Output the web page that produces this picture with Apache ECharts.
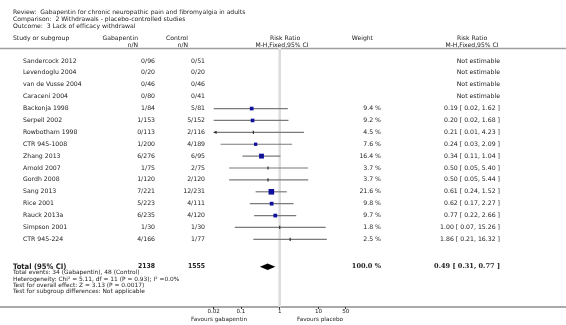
<!DOCTYPE html>
<html>
<head>
<meta charset="utf-8">
<script src="https://cdn.jsdelivr.net/npm/echarts@6/dist/echarts.min.js"></script>
<style>
  html, body { margin: 0; padding: 0; background: #fff; }
  #chart { width: 566px; height: 325px; }
</style>
</head>
<body>
<div id="chart"></div>
<script>
// study rows, top to bottom
const studies = [
  "Sandercock 2012", "Levendoglu 2004", "van de Vusse 2004", "Caraceni 2004",
  "Backonja 1998", "Serpell 2002", "Rowbotham 1998", "CTR 945-1008",
  "Zhang 2013", "Arnold 2007", "Gordh 2008", "Sang 2013",
  "Rice 2001", "Rauck 2013a", "Simpson 2001", "CTR 945-224"
]
const gabEvents = [0, 0, 0, 0, 1, 1, 0, 1, 6, 1, 1, 7, 5, 6, 1, 4]
const gabTotal = [96, 20, 46, 80, 84, 153, 113, 200, 276, 75, 120, 221, 223, 235, 30, 166]
const ctlEvents = [0, 0, 0, 0, 5, 5, 2, 4, 6, 2, 2, 12, 4, 4, 1, 1]
const ctlTotal = [51, 20, 46, 41, 81, 152, 116, 189, 95, 75, 120, 231, 111, 120, 30, 77]
const weights = [null, null, null, null, 9.4, 9.2, 4.5, 7.6, 16.4, 3.7, 3.7, 21.6, 9.8, 9.7, 1.8, 2.5]
const riskRatio = [null, null, null, null, 0.19, 0.20, 0.21, 0.24, 0.34, 0.50, 0.50, 0.61, 0.62, 0.77, 1.00, 1.86]
const ciLow = [null, null, null, null, 0.02, 0.02, 0.01, 0.03, 0.11, 0.05, 0.05, 0.24, 0.17, 0.22, 0.07, 0.21]
const ciHigh = [null, null, null, null, 1.62, 1.68, 4.23, 2.09, 1.04, 5.40, 5.44, 1.52, 2.27, 2.66, 15.26, 16.32]

const totalGab = 2138
const totalCtl = 1555
const totalRR = 0.49
const totalLow = 0.31
const totalHigh = 0.77

const tickValues = [0.02, 0.1, 1, 10, 50]
const tickLabels = ["0.02", "0.1", "1", "10", "50"]

const titleLines = [
  "Review:  Gabapentin for chronic neuropathic pain and fibromyalgia in adults",
  "Comparison:  2 Withdrawals - placebo-controlled studies",
  "Outcome:  3 Lack of efficacy withdrawal"
]
const footnotes = [
  "Total events: 34 (Gabapentin), 48 (Control)",
  "Heterogeneity: Chi\u00b2 = 5.11, df = 11 (P = 0.93); I\u00b2 =0.0%",
  "Test for overall effect: Z = 3.13 (P = 0.0017)",
  "Test for subgroup differences: Not applicable"
]

const FONT = "DejaVu Sans"
const INK = "#222"
const X_MIN = 0.02
const X_MAX = 50
const TOTAL_ROW = 17.3

const fmt = (v) => v.toFixed(2)

const chart = echarts.init(document.getElementById("chart"))

const forestData = []
studies.forEach((s, i) => {
  if (riskRatio[i] != null) {
    forestData.push([riskRatio[i], i, ciLow[i], ciHigh[i], weights[i]])
  }
})

const option = {
  backgroundColor: "#fff",
  animation: false,
  grid: { left: 213.7, right: 220.3, top: 48, bottom: 18 },
  xAxis: {
    type: "log",
    logBase: 10,
    min: X_MIN,
    max: X_MAX,
    axisLine: { show: false, onZero: false },
    splitLine: { show: false },
    axisTick: {
      show: true,
      customValues: tickValues,
      length: 2,
      lineStyle: { color: "#333", width: 1 },
    },
    axisLabel: {
      customValues: tickValues,
      margin: 2,
      fontSize: 5.6,
      fontFamily: FONT,
      color: INK,
      formatter: (v) => {
        const k = tickValues.findIndex((t) => Math.abs(t - v) / t < 1e-6)
        return k >= 0 ? tickLabels[k] : ""
      },
    },
  },
  yAxis: {
    type: "value",
    inverse: true,
    min: -1.093,
    max: 20.69,
    show: false,
  },
  series: [
    {
      // line of no effect
      type: "line",
      z: 1,
      silent: true,
      showSymbol: false,
      data: [[1, -1.093], [1, 20.69]],
      lineStyle: { color: "#dcdcdc", width: 2.5 },
    },
    {
      type: "custom",
      z: 3,
      silent: true,
      data: forestData,
      renderItem: (params, api) => {
        const rr = api.value(0)
        const row = api.value(1)
        const lo = api.value(2)
        const hi = api.value(3)
        const w = api.value(4)
        const l = api.coord([Math.max(lo, X_MIN), row])
        const h = api.coord([Math.min(hi, X_MAX), row])
        const c = api.coord([rr, row])
        const kids = [
          {
            type: "line",
            shape: { x1: l[0], y1: l[1], x2: h[0], y2: h[1] },
            style: { stroke: "#7a7a7a", lineWidth: 1.2 },
          },
        ]
        if (lo < X_MIN) {
          kids.push({
            type: "polygon",
            shape: { points: [[l[0] - 0.5, l[1]], [l[0] + 3, l[1] - 1.6], [l[0] + 3, l[1] + 1.6]] },
            style: { fill: "#333" },
          })
        }
        if (w >= 5) {
          const s = Math.sqrt(w) * 1.2
          kids.push({
            type: "rect",
            shape: { x: c[0] - s / 2, y: c[1] - s / 2, width: s, height: s },
            style: { fill: "#10109c" },
          })
        } else {
          kids.push({
            type: "rect",
            shape: { x: c[0] - 0.6, y: c[1] - 1.6, width: 1.2, height: 3.2 },
            style: { fill: "#333" },
          })
        }
        return { type: "group", children: kids }
      },
    },
    {
      // pooled estimate diamond
      type: "custom",
      z: 3,
      silent: true,
      data: [[totalRR, TOTAL_ROW, totalLow, totalHigh]],
      renderItem: (params, api) => {
        const row = api.value(1)
        const l = api.coord([api.value(2), row])
        const c = api.coord([api.value(0), row])
        const h = api.coord([api.value(3), row])
        return {
          type: "polygon",
          shape: { points: [[l[0], l[1]], [c[0], c[1] - 3.3], [h[0], h[1]], [c[0], c[1] + 3.3]] },
          style: { fill: "#000" },
        }
      },
    },
  ],
}

chart.setOption(option)

// table text, placed on the same row scale as the plot
const rowY = (r) => chart.convertToPixel({ yAxisIndex: 0 }, r)
const txt = (x, y, s, align, size, weight, family) => ({
  type: "text",
  x: x,
  y: y,
  silent: true,
  style: {
    text: s,
    align: align || "left",
    verticalAlign: "middle",
    fontSize: size || 6,
    fontWeight: weight || "normal",
    fontFamily: family || FONT,
    fill: INK,
  },
})

const g = []
titleLines.forEach((s, i) => g.push(txt(13, 12.5 + i * 6.8, s, "left", 6.1)))

// header
const HS = 6.1
g.push(txt(13, 38, "Study or subgroup", "left", HS))
g.push(txt(138, 38, "Gabapentin", "right", HS))
g.push(txt(138, 45, "n/N", "right", HS))
g.push(txt(188, 38, "Control", "right", HS))
g.push(txt(188, 45, "n/N", "right", HS))
g.push(txt(285, 38, "Risk Ratio", "center", HS))
g.push(txt(282, 45, "M-H,Fixed,95% CI", "center", HS))
g.push(txt(373, 38, "Weight", "right", HS))
g.push(txt(472, 38, "Risk Ratio", "center", HS))
g.push(txt(472, 45, "M-H,Fixed,95% CI", "center", HS))
g.push({ type: "line", silent: true, shape: { x1: 0, y1: 48.5, x2: 566, y2: 48.5 }, style: { stroke: "#a0a0a0", lineWidth: 1.5 } })

const RS = 6.2
studies.forEach((s, i) => {
  const y = rowY(i)
  g.push(txt(23, y, s, "left", RS))
  g.push(txt(155, y, gabEvents[i] + "/" + gabTotal[i], "right", RS))
  g.push(txt(205, y, ctlEvents[i] + "/" + ctlTotal[i], "right", RS))
  if (riskRatio[i] == null) {
    g.push(txt(500, y, "Not estimable", "right", RS))
  } else {
    g.push(txt(381, y, weights[i].toFixed(1) + " %", "right", RS))
    g.push(txt(500, y, fmt(riskRatio[i]) + " [ " + fmt(ciLow[i]) + ", " + fmt(ciHigh[i]) + " ]", "right", RS))
  }
})

const ty = rowY(TOTAL_ROW)
g.push(txt(13, ty, "Total (95% CI)", "left", 7.6, "bold", "DejaVu Sans Condensed"))
g.push(txt(155, ty, String(totalGab), "right", 6.8, "bold", "DejaVu Sans Condensed"))
g.push(txt(205, ty, String(totalCtl), "right", 6.8, "bold", "DejaVu Sans Condensed"))
g.push(txt(381, ty, "100.0 %", "right", 6.6, "bold", "DejaVu Serif"))
g.push(txt(500, ty, fmt(totalRR) + " [ " + fmt(totalLow) + ", " + fmt(totalHigh) + " ]", "right", 6.6, "bold", "DejaVu Serif"))

footnotes.forEach((s, i) => g.push(txt(13, 272.8 + i * 6.3, s, "left", 5.9)))

// bottom axis rule and direction captions
g.push({ type: "line", silent: true, shape: { x1: 0, y1: 307, x2: 566, y2: 307 }, style: { stroke: "#555", lineWidth: 1 } })
g.push(txt(219, 319.5, "Favours gabapentin", "center", 5.7))
g.push(txt(320, 319.5, "Favours placebo", "center", 5.7))

chart.setOption({ graphic: g })
</script>
</body>
</html>
